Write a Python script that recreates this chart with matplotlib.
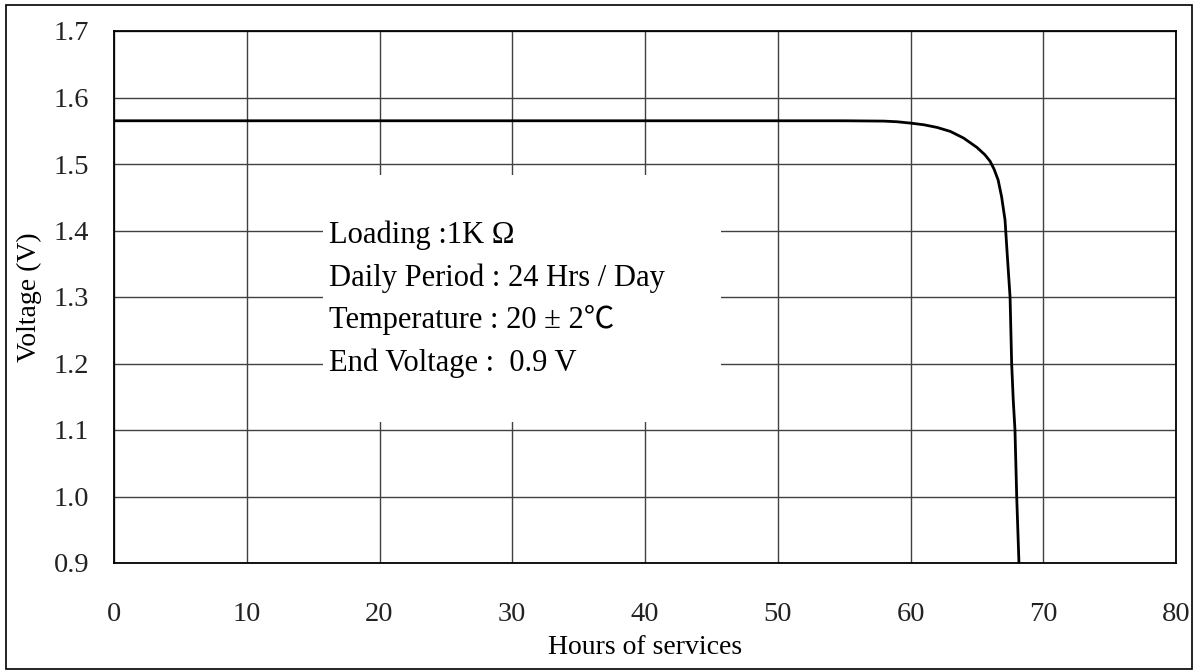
import matplotlib
matplotlib.use("Agg")
import matplotlib.pyplot as plt
from matplotlib.patches import Rectangle

plt.rcParams['font.family'] = ['Liberation Serif', 'Noto Sans CJK SC', 'DejaVu Sans']

hours = [0, 10, 20, 30, 40, 50, 55, 58, 59, 60, 61, 62, 63, 64, 65, 65.6, 66.0,
         66.3, 66.6, 66.86, 67.12, 67.3, 67.5, 67.62, 67.74, 67.87, 68.0, 68.17]
volts = [1.565, 1.565, 1.565, 1.565, 1.565, 1.565, 1.565, 1.5645, 1.5635, 1.5615,
         1.559, 1.555, 1.549, 1.539, 1.525, 1.514, 1.504, 1.492, 1.476, 1.451,
         1.416, 1.36, 1.3, 1.2, 1.145, 1.1, 1.0, 0.9]

x_ticks = [0, 10, 20, 30, 40, 50, 60, 70, 80]
y_ticks = [0.9, 1.0, 1.1, 1.2, 1.3, 1.4, 1.5, 1.6, 1.7]
y_labels = ['0.9', '1.0', '1.1', '1.2', '1.3', '1.4', '1.5', '1.6', '1.7']

info_lines = ['Loading :1K Ω', 'Daily Period : 24 Hrs / Day',
              'Temperature : 20 ± 2℃', 'End Voltage :  0.9 V']

W, H = 1198, 670
fig = plt.figure(figsize=(W / 100, H / 100), dpi=100)
fig.patch.set_facecolor('white')

# outer border
fig.patches.append(Rectangle((6 / W, 1 / H), (1192 - 6) / W, (667 - 3) / H,
                             transform=fig.transFigure, fill=False,
                             edgecolor='black', linewidth=1.2, zorder=0))

ax = fig.add_axes([114 / W, (H - 563) / H, (1176 - 114) / W, (563 - 31) / H])
ax.set_xlim(0, 80)
ax.set_ylim(0.9, 1.7)
ax.set_xticks(x_ticks)
ax.set_yticks(y_ticks)
ax.set_yticklabels(y_labels)
ax.tick_params(axis='both', length=0, labelsize=20.5, colors='#222222')
ax.tick_params(axis='x', pad=28)
ax.tick_params(axis='y', pad=18)
ax.grid(True, color='#404040', linewidth=1.0)
ax.set_axisbelow(True)
for s in ax.spines.values():
    s.set_linewidth(1.3)
    s.set_color('black')

ax.set_xlabel('Hours of services', fontsize=20, labelpad=6)
ax.set_ylabel('Voltage (V)', fontsize=20, labelpad=8)

# info box (white, hides gridlines)
ax.add_patch(Rectangle((0.1968, 0.265), 0.5716 - 0.1968, 0.729 - 0.265,
                       transform=ax.transAxes, facecolor='white',
                       edgecolor='none', zorder=1.5))
ys = [0.6165, 0.5357, 0.4568, 0.3759]
for t, yy in zip(info_lines, ys):
    ax.text(0.2024, yy, t, transform=ax.transAxes, fontsize=22,
            va='center', ha='left', zorder=3)

ax.plot(hours, volts, color='black', linewidth=2.0, zorder=2.5)

fig.savefig('out.png', dpi=100, facecolor='white')
